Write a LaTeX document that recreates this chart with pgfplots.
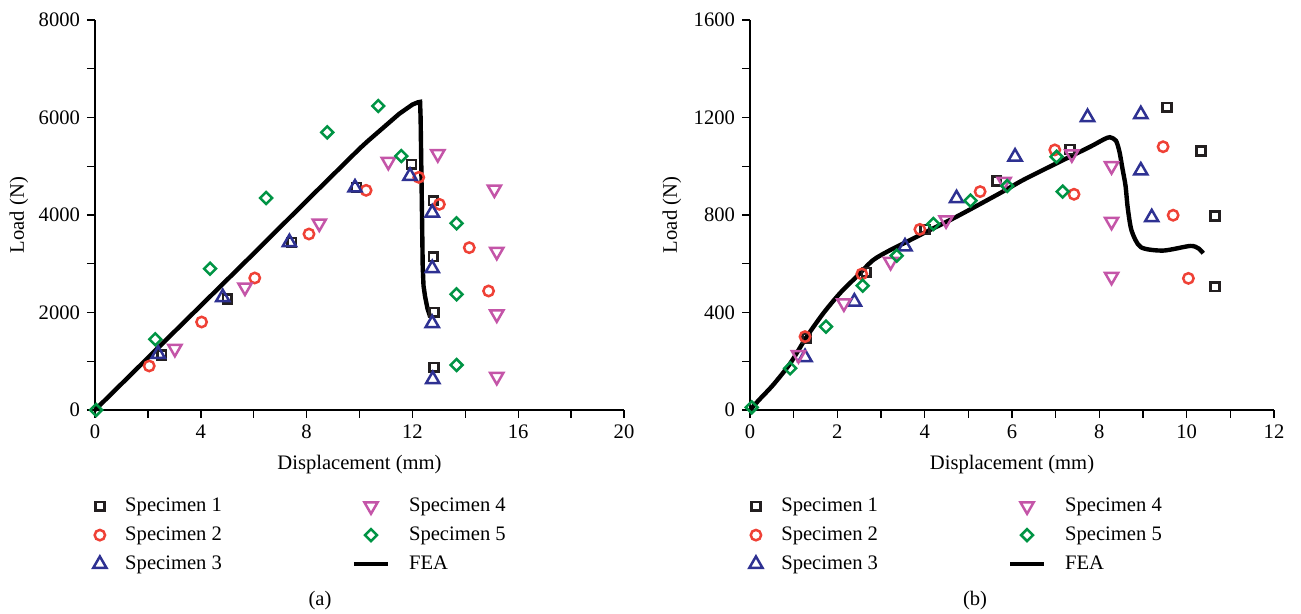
\documentclass[border=0pt]{standalone}
\usepackage{fontspec}
\setmainfont{Liberation Serif}
\usepackage{pgfplots}
\pgfplotsset{compat=1.18}

\definecolor{sA}{HTML}{231F20}
\definecolor{sB}{HTML}{EF4136}
\definecolor{sC}{HTML}{2E3192}
\definecolor{sD}{HTML}{C455A8}
\definecolor{sE}{HTML}{009444}
\newcommand{\fs}{\fontsize{10.3}{12}\selectfont}

\pgfplotsset{
  panel/.style={
    scale only axis, height=195pt, anchor=south west,
    axis x line*=bottom, axis y line*=left,
    tick align=outside, major tick length=4pt, minor tick length=4pt,
    every tick/.style={black, line width=0.7pt},
    axis line style={line width=0.7pt},
    /pgf/number format/assume math mode=true,
    /pgf/number format/set thousands separator={},
    tick label style={font=\fs},
    label style={font=\fs},
    xlabel={Displacement (mm)}, ylabel={Load (N)},
    every axis x label/.style={at={(axis description cs:0.5,-0.141)}, anchor=center},
    clip=false,
    legend columns=2,
    legend cell align=left,
    legend style={draw=none, fill=none, font=\fs, inner sep=0pt, anchor=north west,
      nodes={inner xsep=3.4pt, inner ysep=2.2pt}, row sep=1.75pt,
      /tikz/every odd column/.append style={column sep=6pt},
      /tikz/every even column/.append style={column sep=61.5pt}},
  },
  s1/.style={only marks, mark=square, color=sA, mark size=2.2pt, mark options={solid, line width=1.25pt}},
  s2/.style={only marks, mark=o, color=sB, mark size=2.6pt, mark options={solid, line width=1.25pt}},
  s3/.style={only marks, mark=triangle, color=sC, mark size=3.8pt, mark options={solid, line width=1.25pt}},
  s4/.style={only marks, mark=triangle, color=sD, mark size=3.8pt, mark options={solid, rotate=180, line width=1.25pt}},
  s5/.style={only marks, mark=square, color=sE, mark size=2.1pt, mark options={solid, rotate=45, line width=1.25pt}},
  fea/.style={no marks, black, line width=2.2pt},
  legs/.code={
    \addlegendimage{s1}\addlegendentry{\fs Specimen 1}
    \addlegendimage{s4}\addlegendentry{\fs Specimen 4}
    \addlegendimage{s2}\addlegendentry{\fs Specimen 2}
    \addlegendimage{s5}\addlegendentry{\fs Specimen 5}
    \addlegendimage{s3}\addlegendentry{\fs Specimen 3}
    \addlegendimage{fea}\addlegendentry{\fs FEA}
  },
}

\begin{document}
\begin{tikzpicture}[font=\fs]
\path[use as bounding box] (0,0) rectangle (650.5pt,307pt);

% (a)
\begin{axis}[panel, at={(47.5pt,102pt)}, width=264.5pt,
  xmin=0, xmax=20, ymin=0, ymax=8000,
  xtick={0,4,...,20}, minor xtick={2,6,...,18},
  ytick={0,2000,...,8000}, minor ytick={1000,3000,5000,7000},
  every axis y label/.style={at={(axis description cs:-0.144,0.5)}, rotate=90, anchor=center},
  legend style={at={(axis description cs:-0.004,-0.213)}}]
\addplot[fea, forget plot] coordinates {
  (0,0) (2,1070) (4,2140) (6,3210) (8,4290) (10,5360) (10.3,5510) (10.8,5745)
  (11.5,6075) (12.0,6265) (12.2,6310) (12.29,6320) (12.31,6000) (12.35,4500)
  (12.39,2940) (12.42,2550) (12.48,2325) (12.57,2080) (12.67,1914)};
\addplot[s1, forget plot] coordinates {
  (2.52,1128) (5.0,2277) (7.44,3440) (9.89,4568) (11.97,5040) (12.79,4294)
  (12.79,3145) (12.82,2004) (12.82,876)};
\addplot[s2, forget plot] coordinates {
  (2.05,903) (4.03,1805) (6.04,2708) (8.09,3610) (10.25,4506) (12.24,4773)
  (13.02,4219) (14.15,3330) (14.88,2441)};
\addplot[s3, forget plot] coordinates {
  (2.39,1149) (4.83,2311) (7.35,3440) (9.83,4560) (11.91,4800) (12.75,4047)
  (12.75,2906) (12.75,1778) (12.77,630)};
\addplot[s4, forget plot] coordinates {
  (3.02,1258) (5.67,2516) (8.48,3829) (11.09,5094) (12.96,5251) (15.1,4527)
  (15.19,3248) (15.19,1963) (15.19,683)};
\addplot[s5, forget plot] coordinates {
  (0.04,0) (2.28,1450) (4.35,2899) (6.47,4349) (8.78,5696) (10.71,6236)
  (11.58,5210) (13.67,3829) (13.67,2373) (13.67,923)};
\pgfplotsset{legs}
\end{axis}

% (b)
\begin{axis}[panel, at={(375pt,102pt)}, width=262pt,
  xmin=0, xmax=12, ymin=0, ymax=1600,
  xtick={0,2,...,12}, minor xtick={1,3,...,11},
  ytick={0,400,...,1600}, minor ytick={200,600,1000,1400},
  every axis y label/.style={at={(axis description cs:-0.149,0.5)}, rotate=90, anchor=center},
  legend style={at={(axis description cs:-0.002,-0.213)}}]
\addplot[fea, smooth, tension=0.45, forget plot] coordinates {
  (0,0) (0.2,40) (0.53,103) (0.92,191) (1.30,301) (1.68,397) (2.06,479) (2.44,547)
  (2.82,615) (3.21,656) (3.59,690) (4.05,732) (4.73,793) (5.72,889) (6.26,944)
  (7.02,1012) (7.79,1080) (8.10,1110) (8.24,1119) (8.38,1105) (8.46,1060)
  (8.53,990) (8.60,920) (8.65,830) (8.74,735) (8.95,668) (9.46,654)
  (10.08,673) (10.27,663) (10.38,643)};
\addplot[s1, forget plot] coordinates {
  (1.30,294) (2.66,565) (4.01,741) (5.65,939) (7.33,1069) (9.55,1242)
  (10.33,1063) (10.65,796) (10.65,506)};
\addplot[s2, forget plot] coordinates {
  (1.26,301) (2.56,558) (3.89,741) (5.27,896) (6.98,1067) (7.42,885)
  (9.46,1080) (9.69,799) (10.04,540)};
\addplot[s3, forget plot] coordinates {
  (1.26,216) (2.39,444) (3.55,670) (4.73,868) (6.07,1039) (7.73,1201)
  (8.95,1213) (8.95,982) (9.2,790)};
\addplot[s4, forget plot] coordinates {
  (1.11,226) (2.15,438) (3.22,608) (4.49,779) (5.82,937) (7.37,1050)
  (8.28,1001) (8.28,773) (8.28,547)};
\addplot[s5, forget plot] coordinates {
  (0.04,11) (0.92,171) (1.74,342) (2.58,510) (3.36,633) (4.2,763) (5.05,859)
  (5.89,919) (7.02,1039) (7.16,896)};
\pgfplotsset{legs}
\end{axis}

\node at (160pt,6.5pt) {(a)};
\node at (487.5pt,6.5pt) {(b)};
\end{tikzpicture}
\end{document}
